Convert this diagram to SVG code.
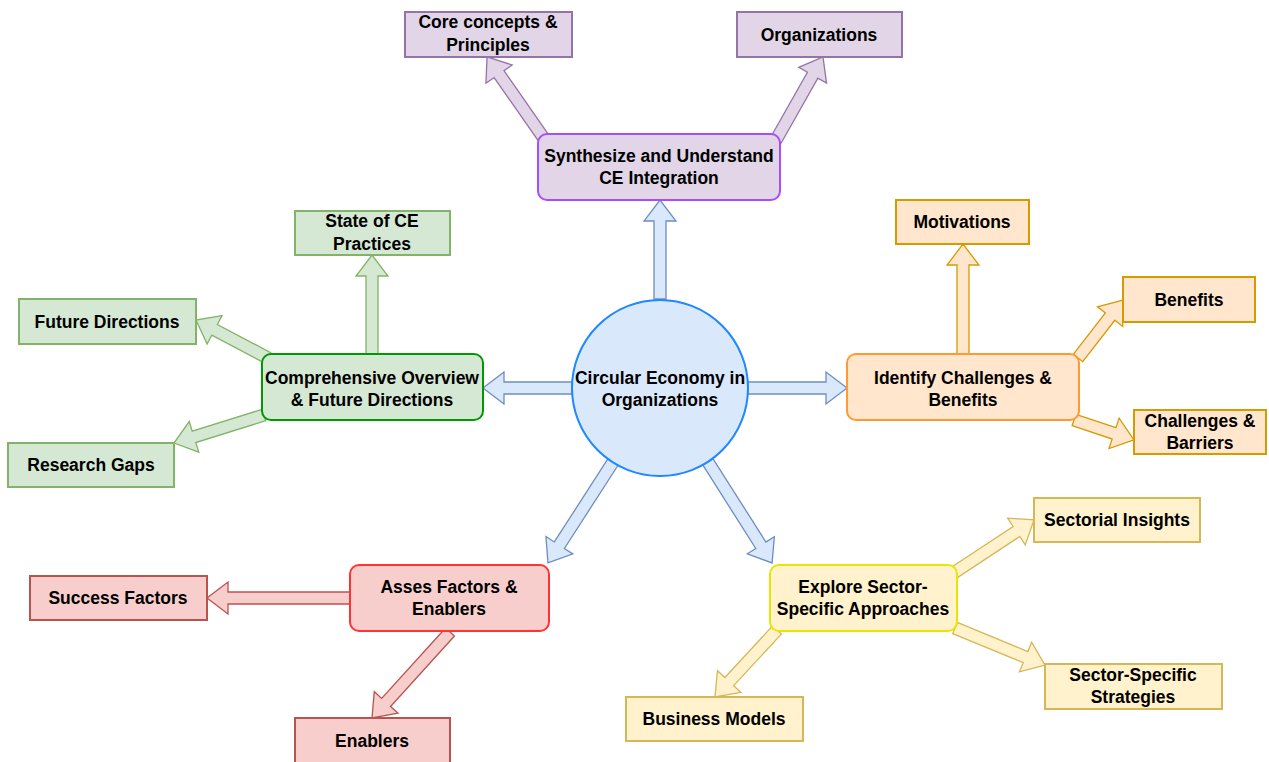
<svg xmlns="http://www.w3.org/2000/svg" width="1269" height="762" viewBox="0 0 1269 762">
  <style>
    text { font-family: "Liberation Sans", Arial, sans-serif; font-weight: bold; font-size: 17.5px; fill: #000; text-anchor: middle; }
    .arr { stroke-width: 1.3; stroke-linejoin: miter; }
    .blue { fill: #dae8fc; stroke: #6c8ebf; }
    .purple { fill: #e1d5e7; stroke: #9673a6; }
    .green { fill: #d5e8d4; stroke: #82b366; }
    .orange { fill: #ffe6cc; stroke: #d79b00; }
    .red { fill: #f8cecc; stroke: #b85450; }
    .yellow { fill: #fff2cc; stroke: #d6b656; }
    .box { stroke-width: 2; }
  </style>
  <rect width="1269" height="762" fill="#ffffff"/>

  <!-- block arrows: each drawn along +x then placed with translate/rotate -->
  <g id="connectors" class="arr">
    <polygon class="blue" transform="translate(660,299) rotate(-90)" points="0,-6 78,-6 78,-16 99,0 78,16 78,6 0,6"/>
    <polygon class="blue" transform="translate(572,388) rotate(180)" points="0,-6 68,-6 68,-16 89,0 68,16 68,6 0,6"/>
    <polygon class="blue" transform="translate(748,388)" points="0,-6 78,-6 78,-16 99,0 78,16 78,6 0,6"/>
    <polygon class="blue" transform="translate(613,462) rotate(122.8)" points="0,-6 99,-6 99,-16 120,0 99,16 99,6 0,6"/>
    <polygon class="blue" transform="translate(708,462) rotate(57.6)" points="0,-6 98.6,-6 98.6,-16 119.6,0 98.6,16 98.6,6 0,6"/>

    <polygon class="purple" transform="translate(545,140) rotate(-124.9)" points="0,-6 80.3,-6 80.3,-16 101.3,0 80.3,16 80.3,6 0,6"/>
    <polygon class="purple" transform="translate(776,140) rotate(-60.5)" points="0,-6 74.4,-6 74.4,-16 95.4,0 74.4,16 74.4,6 0,6"/>

    <polygon class="green" transform="translate(372,354) rotate(-90)" points="0,-6 78,-6 78,-16 99,0 78,16 78,6 0,6"/>
    <polygon class="green" transform="translate(268,358) rotate(-152.2)" points="0,-6 60.4,-6 60.4,-16 81.4,0 60.4,16 60.4,6 0,6"/>
    <polygon class="green" transform="translate(264,415) rotate(162.7)" points="0,-6 73.3,-6 73.3,-16 94.3,0 73.3,16 73.3,6 0,6"/>

    <polygon class="orange" transform="translate(963,354) rotate(-90)" points="0,-6 89,-6 89,-16 110,0 89,16 89,6 0,6"/>
    <polygon class="orange" transform="translate(1078,358) rotate(-52.2)" points="0,-6 52.4,-6 52.4,-16 73.4,0 52.4,16 52.4,6 0,6"/>
    <polygon class="orange" transform="translate(1074,420) rotate(18.4)" points="0,-6 42.2,-6 42.2,-16 63.2,0 42.2,16 42.2,6 0,6"/>

    <polygon class="red" transform="translate(350,598) rotate(180)" points="0,-6 122,-6 122,-16 143,0 122,16 122,6 0,6"/>
    <polygon class="red" transform="translate(450,632) rotate(132.2)" points="0,-6 95.1,-6 95.1,-16 116.1,0 95.1,16 95.1,6 0,6"/>

    <polygon class="yellow" transform="translate(955,572) rotate(-33.4)" points="0,-6 73.6,-6 73.6,-16 94.6,0 73.6,16 73.6,6 0,6"/>
    <polygon class="yellow" transform="translate(955,628) rotate(22.4)" points="0,-6 76.3,-6 76.3,-16 97.3,0 76.3,16 76.3,6 0,6"/>
    <polygon class="yellow" transform="translate(777,630) rotate(132.8)" points="0,-6 70.3,-6 70.3,-16 91.3,0 70.3,16 70.3,6 0,6"/>
  </g>

  <!-- central topic -->
  <g id="center">
    <circle cx="660" cy="388" r="88" fill="#dae8fc" stroke="#1e88ff" stroke-width="2"/>
    <text x="660" y="384">Circular Economy in</text>
    <text x="660" y="406">Organizations</text>
  </g>

  <!-- main branches -->
  <g id="synthesize">
    <rect x="538" y="134" width="242" height="66" rx="9" fill="#e1d5e7" stroke="#a64dff" class="box"/>
    <text x="659" y="162">Synthesize and Understand</text>
    <text x="659" y="184">CE Integration</text>
  </g>
  <g id="overview">
    <rect x="262" y="354" width="221" height="66" rx="9" fill="#d5e8d4" stroke="#009900" class="box"/>
    <text x="372" y="384">Comprehensive Overview</text>
    <text x="372" y="406">&amp; Future Directions</text>
  </g>
  <g id="challenges-benefits">
    <rect x="847" y="354" width="232" height="66" rx="9" fill="#ffe6cc" stroke="#ff9933" class="box"/>
    <text x="963" y="384">Identify Challenges &amp;</text>
    <text x="963" y="406">Benefits</text>
  </g>
  <g id="factors-enablers">
    <rect x="350" y="565" width="199" height="66" rx="9" fill="#f8cecc" stroke="#ff3333" class="box"/>
    <text x="449" y="593">Asses Factors &amp;</text>
    <text x="449" y="615">Enablers</text>
  </g>
  <g id="sector-approaches">
    <rect x="770" y="565" width="187" height="66" rx="9" fill="#fff2cc" stroke="#e6e600" class="box"/>
    <text x="863" y="593">Explore Sector-</text>
    <text x="863" y="615">Specific Approaches</text>
  </g>

  <!-- leaf topics -->
  <g id="core-concepts">
    <rect x="405" y="12" width="167" height="45" class="box purple"/>
    <text x="488" y="28">Core concepts &amp;</text>
    <text x="488" y="51">Principles</text>
  </g>
  <g id="organizations">
    <rect x="737" y="12" width="165" height="45" class="box purple"/>
    <text x="819" y="41">Organizations</text>
  </g>
  <g id="state-of-ce">
    <rect x="295" y="211" width="155" height="44" class="box green"/>
    <text x="372" y="227">State of CE</text>
    <text x="372" y="250">Practices</text>
  </g>
  <g id="future-directions">
    <rect x="19" y="299" width="177" height="45" class="box green"/>
    <text x="107" y="328">Future Directions</text>
  </g>
  <g id="research-gaps">
    <rect x="8" y="443" width="166" height="44" class="box green"/>
    <text x="91" y="471">Research Gaps</text>
  </g>
  <g id="motivations">
    <rect x="896" y="200" width="133" height="44" class="box orange"/>
    <text x="962" y="228">Motivations</text>
  </g>
  <g id="benefits">
    <rect x="1123" y="277" width="132" height="45" class="box orange"/>
    <text x="1189" y="306">Benefits</text>
  </g>
  <g id="challenges-barriers">
    <rect x="1134" y="410" width="132" height="44" class="box orange"/>
    <text x="1200" y="427">Challenges &amp;</text>
    <text x="1200" y="449">Barriers</text>
  </g>
  <g id="success-factors">
    <rect x="30" y="576" width="177" height="44" class="box red"/>
    <text x="118" y="604">Success Factors</text>
  </g>
  <g id="enablers">
    <rect x="295" y="718" width="155" height="46" class="box red"/>
    <text x="372" y="747">Enablers</text>
  </g>
  <g id="sectorial-insights">
    <rect x="1034" y="498" width="166" height="44" class="box yellow"/>
    <text x="1117" y="526">Sectorial Insights</text>
  </g>
  <g id="sector-strategies">
    <rect x="1045" y="664" width="177" height="45" class="box yellow"/>
    <text x="1133" y="681">Sector-Specific</text>
    <text x="1133" y="703">Strategies</text>
  </g>
  <g id="business-models">
    <rect x="626" y="697" width="177" height="44" class="box yellow"/>
    <text x="714" y="725">Business Models</text>
  </g>
</svg>
